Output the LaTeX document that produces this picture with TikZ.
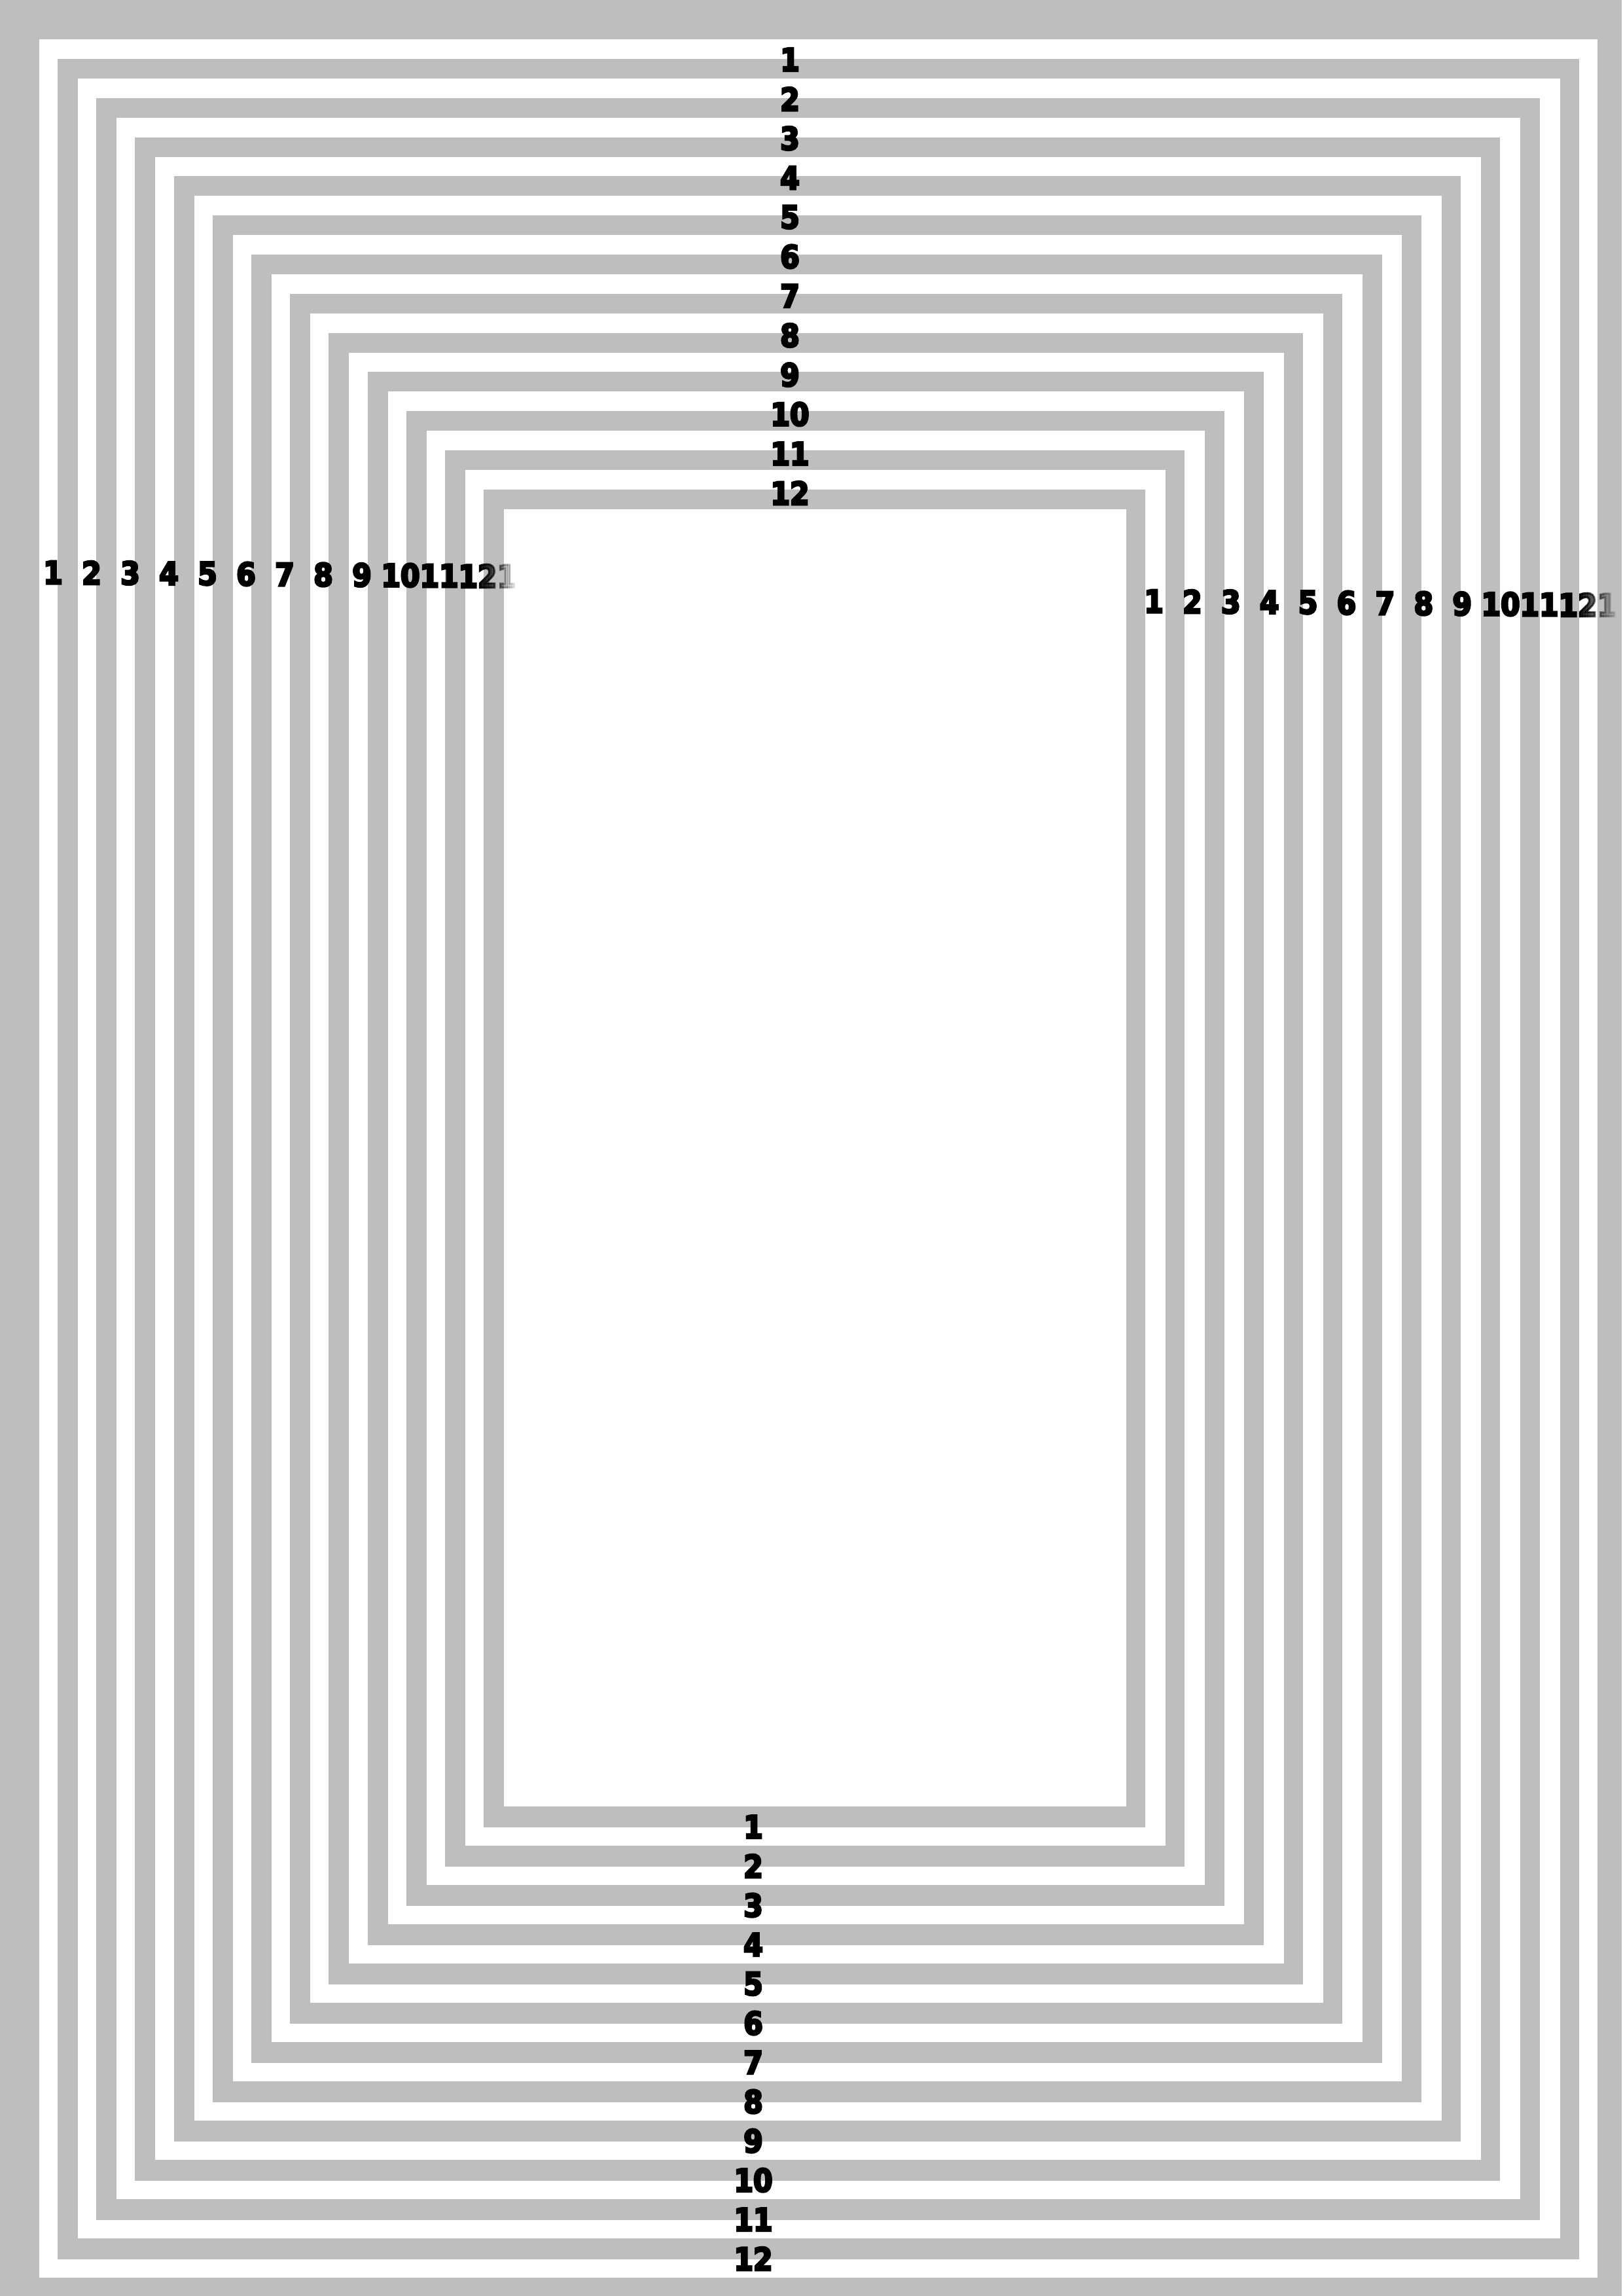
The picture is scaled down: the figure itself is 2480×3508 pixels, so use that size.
\documentclass[tikz,border=0pt]{standalone}
\usepackage{fontspec}
\setmainfont{DejaVu Sans}[BoldFeatures={FakeBold=6, FakeStretch=0.88}]
\definecolor{band}{HTML}{BEBEBE}
\tikzset{
  lab/.style={font=\fontsize{11.6}{12}\selectfont\bfseries, inner sep=0pt, text=black},
  bandfill/.style={fill=band},
  holefill/.style={fill=white}
}
\newcommand\fadedlabel[5]{%
  \begin{scope}
    \clip ({#2-100},{#3-50}) rectangle ({#4},{#3+50});
    \node[lab] (#1) at (#2,#3) {12\rlap{1}};
  \end{scope}
  \foreach \i [evaluate=\i as \op using {1-(\i+0.5)/16}] in {0,...,15}{
    \begin{scope}
      \clip ({#4+(#5-#4)*\i/16-0.3},{#3-50}) rectangle ({#4+(#5-#4)*(\i+1)/16},{#3+50});
      \node[lab, text opacity=\op] (#1s\i) at (#2,#3) {12\rlap{1}};
    \end{scope}
  }%
}
\begin{document}
\begin{tikzpicture}[x=0.0846774mm, y=-0.0846774mm]
\useasboundingbox (0,0) rectangle (2480,3508);
\fill[white] (0,0) rectangle (2480,3508);
\fill[bandfill] (0,0) rectangle (2478,3508);
\fill[holefill] (60,60) rectangle (2441,3480);
\foreach \k in {1,...,12}{
  \pgfmathsetmacro\L{88+59.2*(\k-1)}
  \pgfmathsetmacro\T{90+59.8*(\k-1)}
  \pgfmathsetmacro\R{2413-60.27*(\k-1)}
  \pgfmathsetmacro\B{3452-60*(\k-1)}
  \fill[bandfill] (\L,\T) rectangle (\R,\B);
  \fill[holefill] ({\L+31},{\T+30}) rectangle ({\R-29.5},{\B-32});
}
\foreach \k in {1,...,12}{
  \node[lab] (top\k) at (1207,{91+60.2*(\k-1)}) {\k};
  \node[lab] (bot\k) at (1151,{2791+60*(\k-1)}) {\k};
}
\foreach \k in {1,...,11}{
  \node[lab] (lft\k) at ({81+59*(\k-1)},{874.5+0.5*(\k-1)}) {\k};
  \node[lab] (rgt\k) at ({1763+58.9*(\k-1)},{918.5+0.5*(\k-1)}) {\k};
}
\fadedlabel{lft12}{730}{880}{733}{790}
\fadedlabel{rgt12}{2411}{924}{2411}{2474}
\end{tikzpicture}
\end{document}
